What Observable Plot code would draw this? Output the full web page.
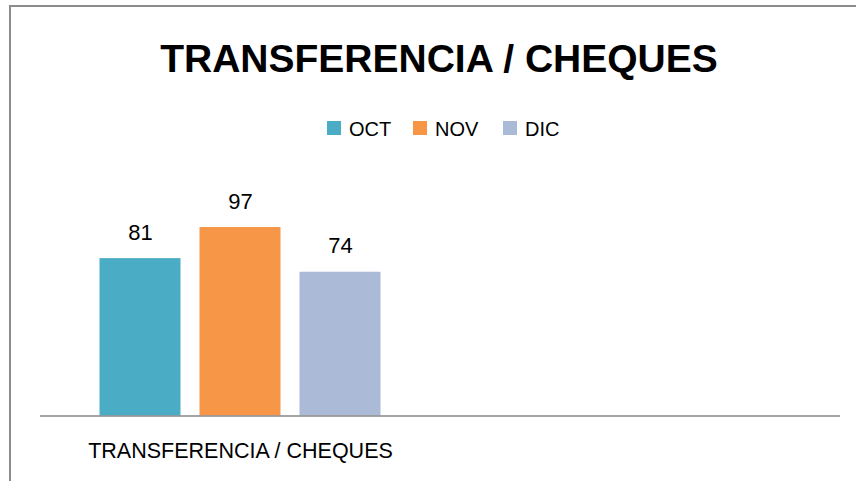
<!DOCTYPE html>
<html>
<head>
<meta charset="utf-8">
<script src="https://cdn.jsdelivr.net/npm/d3@7"></script>
<script src="https://cdn.jsdelivr.net/npm/@observablehq/plot@0.6"></script>
<style>
  html, body { margin: 0; padding: 0; background: #fff; }
  #wrap { position: relative; width: 856px; height: 481px; overflow: hidden; font-family: "Liberation Sans", Arial, sans-serif; }
  #frame { position: absolute; left: 9px; top: 5px; width: 900px; height: 600px; border-left: 2px solid #8c8c8c; border-top: 2px solid #8c8c8c; box-sizing: border-box; }
  #title { position: absolute; left: 0; top: 39px; width: 878px; text-align: center; font-size: 39px; line-height: 39px; font-weight: bold; color: #000; white-space: nowrap; }
  .leg { position: absolute; top: 119px; font-size: 20px; line-height: 20px; color: #000; white-space: nowrap; }
  .sw { position: absolute; top: 121px; width: 14px; height: 14px; }
  #chart { position: absolute; left: 0; top: 150px; }
</style>
</head>
<body>
<div id="wrap">
  <div id="frame"></div>
  <div id="title"></div>
  <div id="legend"></div>
  <div id="chart"></div>
</div>
<script>
const titleText = "TRANSFERENCIA / CHEQUES";
const categories = ["TRANSFERENCIA / CHEQUES", " "];
const months = ["OCT", "NOV", "DIC"];
const values = [81, 97, 74];
const colors = ["#4BACC6", "#F79646", "#AABAD7"];

document.getElementById("title").textContent = titleText;

// legend
const legend = document.getElementById("legend");
const legendX = [327, 413, 503];
months.forEach((m, i) => {
  const sw = document.createElement("div");
  sw.className = "sw";
  sw.style.left = legendX[i] + "px";
  sw.style.background = colors[i];
  legend.appendChild(sw);
  const t = document.createElement("div");
  t.className = "leg";
  t.style.left = (legendX[i] + 22) + "px";
  t.textContent = m;
  legend.appendChild(t);
});

const data = months.map((m, i) => ({cat: categories[0], month: m, value: values[i]}));
const baseline = categories.map(c => ({cat: c, y: 0}));

const chart = Plot.plot({
  width: 856,
  height: 331,
  marginLeft: 39.5,
  marginRight: 16.5,
  marginTop: 71.2,
  marginBottom: 65.5,
  style: {fontFamily: "Liberation Sans, Arial, sans-serif", background: "transparent"},
  fx: {domain: categories, padding: 0, label: null},
  x: {domain: months, paddingInner: 0.19, paddingOuter: 0.595, axis: null},
  y: {domain: [0, 100], axis: null},
  color: {domain: months, range: colors},
  marks: [
    Plot.barY(data, {fx: "cat", x: "month", y: "value", fill: "month"}),
    Plot.text(data, {fx: "cat", x: "month", y: "value", text: d => String(d.value), lineAnchor: "bottom", dy: -19, fontSize: 22, fill: "#000"}),
    Plot.ruleY(baseline, {fx: "cat", y: "y", stroke: "#878787", strokeWidth: 1.5}),
    Plot.axisFx({anchor: "bottom", tickSize: 0, tickPadding: 27, fontSize: 21.5, label: null, fill: "#000"})
  ]
});
document.getElementById("chart").appendChild(chart);
</script>
</body>
</html>
